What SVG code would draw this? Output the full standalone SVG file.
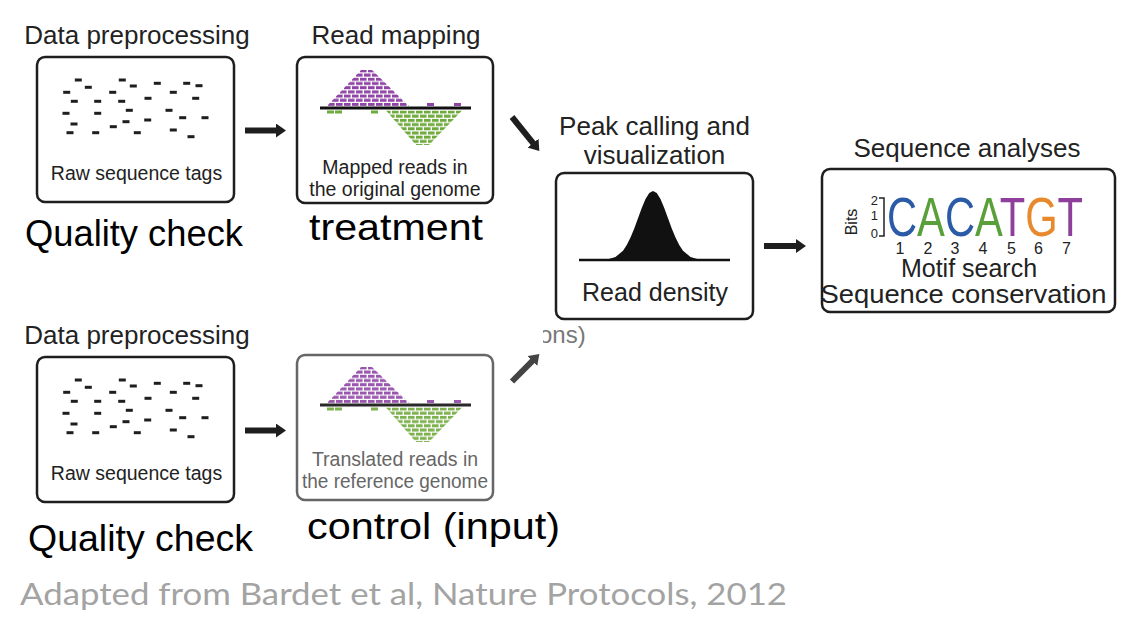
<svg xmlns="http://www.w3.org/2000/svg" xmlns:xlink="http://www.w3.org/1999/xlink" width="1129" height="621" viewBox="0 0 1129 621">
<style>
.box{fill:#fff;stroke:#1e1e1e;stroke-width:2.5}
.boxg{fill:#fff;stroke:#666;stroke-width:2.5}
.t{font-family:"Liberation Sans",Arial,sans-serif;fill:#222}
.title{font-size:26px;text-anchor:middle}
.inner{font-size:19.5px;text-anchor:middle}
.big{font-family:"Liberation Sans",Arial,sans-serif;font-size:36px;fill:#000}
.tag{fill:#1e1e1e}
.conn{stroke:#1e1e1e;stroke-width:6;fill:none}
.conng{stroke:#444;stroke-width:6;fill:none}
</style>
<defs>
<marker id="ah" viewBox="0 0 10 14" refX="1" refY="7" markerWidth="10" markerHeight="14" markerUnits="userSpaceOnUse" orient="auto">
<path d="M0,0 L10,7 L0,14 z" fill="#1e1e1e"/>
</marker>
<marker id="ahg" viewBox="0 0 10 14" refX="1" refY="7" markerWidth="10" markerHeight="14" markerUnits="userSpaceOnUse" orient="auto">
<path d="M0,0 L10,7 L0,14 z" fill="#444"/>
</marker>
<pattern id="purp" patternUnits="userSpaceOnUse" x="0" y="103" width="8" height="8.4">
<rect x="0" y="0" width="6.6" height="3" fill="#8f45a6"/>
<rect x="4" y="4.2" width="6.6" height="3" fill="#8f45a6"/>
<rect x="-4" y="4.2" width="6.6" height="3" fill="#8f45a6"/>
</pattern>
<pattern id="grn" patternUnits="userSpaceOnUse" x="0" y="110.5" width="8" height="8.4">
<rect x="0" y="0" width="6.6" height="3" fill="#6faa3c"/>
<rect x="4" y="4.2" width="6.6" height="3" fill="#6faa3c"/>
<rect x="-4" y="4.2" width="6.6" height="3" fill="#6faa3c"/>
</pattern>
<g id="tags">
<rect class="tag" x="74.8" y="78.5" width="7" height="3"/>
<rect class="tag" x="84.8" y="85.8" width="7" height="3"/>
<rect class="tag" x="63.2" y="90.8" width="7" height="3"/>
<rect class="tag" x="70.8" y="99.8" width="7" height="3"/>
<rect class="tag" x="94.2" y="99.8" width="7" height="3"/>
<rect class="tag" x="62.5" y="111.8" width="7" height="3"/>
<rect class="tag" x="94.2" y="111.8" width="7" height="3"/>
<rect class="tag" x="70.5" y="122.5" width="7" height="3"/>
<rect class="tag" x="66.5" y="131.2" width="7" height="3"/>
<rect class="tag" x="92.2" y="131.2" width="7" height="3"/>
<rect class="tag" x="118.8" y="78.5" width="7" height="3"/>
<rect class="tag" x="129.8" y="84.5" width="7" height="3"/>
<rect class="tag" x="109.2" y="90.8" width="7" height="3"/>
<rect class="tag" x="118.2" y="99.8" width="7" height="3"/>
<rect class="tag" x="125.8" y="108.8" width="7" height="3"/>
<rect class="tag" x="122.5" y="120.2" width="7" height="3"/>
<rect class="tag" x="109.8" y="125.2" width="7" height="3"/>
<rect class="tag" x="133.8" y="131.2" width="7" height="3"/>
<rect class="tag" x="144.5" y="96.8" width="7" height="3"/>
<rect class="tag" x="153.8" y="81.8" width="7" height="3"/>
<rect class="tag" x="144.2" y="118.5" width="7" height="3"/>
<rect class="tag" x="169.8" y="90.8" width="7" height="3"/>
<rect class="tag" x="165.5" y="108.8" width="7" height="3"/>
<rect class="tag" x="183.2" y="81.8" width="7" height="3"/>
<rect class="tag" x="195.5" y="84.2" width="7" height="3"/>
<rect class="tag" x="192.2" y="96.8" width="7" height="3"/>
<rect class="tag" x="179.2" y="116.2" width="7" height="3"/>
<rect class="tag" x="201.5" y="116.2" width="7" height="3"/>
<rect class="tag" x="169.8" y="128.5" width="7" height="3"/>
<rect class="tag" x="187.5" y="135.2" width="7" height="3"/>
</g>
<g id="pile">
<polygon points="327,106 361,70 372,70 409,106" fill="url(#purp)"/>
<rect x="427" y="103" width="7" height="3" fill="#8f45a6"/>
<rect x="454" y="103" width="7" height="3" fill="#8f45a6"/>
<rect x="327" y="110.5" width="7" height="3" fill="#6faa3c"/>
<rect x="335" y="110.5" width="7" height="3" fill="#6faa3c"/>
<rect x="371" y="110.5" width="7" height="3" fill="#6faa3c"/>
<polygon points="386,110.5 462,110.5 429,145 416,145" fill="url(#grn)"/>
<line x1="320" y1="108" x2="471" y2="108" stroke="#111" stroke-width="3"/>
</g>
<clipPath id="onsclip"><rect x="543" y="310" width="60" height="50"/></clipPath>
</defs>

<g id="connectors">
<line class="conn" x1="245" y1="130.5" x2="277" y2="130.5" marker-end="url(#ah)"/>
<line class="conn" x1="245" y1="430.5" x2="277" y2="430.5" marker-end="url(#ah)"/>
<line class="conn" x1="512" y1="117" x2="533.7" y2="143.9" marker-end="url(#ah)"/>
<line class="conng" x1="512" y1="381.5" x2="533" y2="360.3" marker-end="url(#ahg)"/>
<line class="conn" x1="764" y1="246" x2="797" y2="246" marker-end="url(#ah)"/>
</g>

<g id="preprocess-top">
<text class="t title" x="137" y="44">Data preprocessing</text>
<rect class="box" x="37" y="57" width="197" height="145" rx="8"/>
<use xlink:href="#tags"/>
<text class="t inner" x="136.5" y="180">Raw sequence tags</text>
<text class="big" x="25" y="246" textLength="218" lengthAdjust="spacingAndGlyphs">Quality check</text>
</g>

<g id="mapping-top">
<text class="t title" x="396" y="44">Read mapping</text>
<rect class="box" x="297" y="57" width="196" height="146" rx="8"/>
<use xlink:href="#pile"/>
<text class="t inner" x="395" y="174">Mapped reads in</text>
<text class="t inner" x="395" y="196">the original genome</text>
<text class="big" x="309" y="240" textLength="174" lengthAdjust="spacingAndGlyphs">treatment</text>
</g>

<g id="preprocess-bottom">
<text class="t title" x="137" y="344">Data preprocessing</text>
<rect class="box" x="37" y="357" width="197" height="145" rx="8"/>
<use xlink:href="#tags" transform="translate(0,300)"/>
<text class="t inner" x="136.5" y="480">Raw sequence tags</text>
<text class="big" x="28" y="551" textLength="225" lengthAdjust="spacingAndGlyphs">Quality check</text>
</g>

<g id="mapping-bottom">
<rect class="boxg" x="297" y="355" width="196" height="145" rx="8"/>
<use xlink:href="#pile" transform="translate(0,297)" opacity="0.9"/>
<text class="t inner" x="395" y="466" style="fill:#666">Translated reads in</text>
<text class="t inner" x="395" y="488" style="fill:#666" textLength="186" lengthAdjust="spacingAndGlyphs">the reference genome</text>
<text class="big" x="307" y="539" textLength="253" lengthAdjust="spacingAndGlyphs">control (input)</text>
</g>

<g id="ons-fragment">
<text class="t" x="539" y="343" font-size="24" style="fill:#777" clip-path="url(#onsclip)">ons)</text>
</g>

<g id="peak-calling">
<text class="t title" x="654.5" y="135">Peak calling and</text>
<text class="t title" x="654.5" y="164">visualization</text>
<rect class="box" x="556" y="173" width="197" height="146" rx="8"/>
<path d="M605,259.6 L608,259.2 L615.5,257 L623,250.7 L626.75,245.1 L630.5,237.6 L634.25,228.4 L638,218.2 L641.75,207.9 L645.5,199.1 L649.25,193.1 L653,191 L656.75,193.1 L660.5,199.1 L664.25,207.9 L668,218.2 L671.75,228.4 L675.5,237.6 L679.25,245.1 L683,250.7 L690.5,257 L698,259.2 L701,259.6 L701,260 L605,260 Z" fill="#111"/>
<line x1="579" y1="260" x2="730" y2="260" stroke="#111" stroke-width="2.5"/>
<text class="t" x="655" y="301" font-size="25" text-anchor="middle">Read density</text>
</g>

<g id="sequence-analyses">
<text class="t title" x="967" y="157">Sequence analyses</text>
<rect class="box" x="822" y="169" width="293" height="143" rx="8"/>
<text font-family="Liberation Sans, Arial, sans-serif" font-size="56" x="887" y="236" textLength="196" lengthAdjust="spacingAndGlyphs"><tspan fill="#2b5ba6">C</tspan><tspan fill="#5aa03a">A</tspan><tspan fill="#2b5ba6">C</tspan><tspan fill="#5aa03a">A</tspan><tspan fill="#8d3f9b">T</tspan><tspan fill="#e8892d">G</tspan><tspan fill="#8d3f9b">T</tspan></text>
<text class="t" x="878" y="205" font-size="13" text-anchor="end">2</text>
<text class="t" x="878" y="220" font-size="13" text-anchor="end">1</text>
<text class="t" x="878" y="238" font-size="13" text-anchor="end">0</text>
<path d="M879,198 H884 V236 H879" fill="none" stroke="#222" stroke-width="1.5"/>
<text class="t" font-size="16" text-anchor="middle" transform="translate(857,222) rotate(-90)">Bits</text>
<g font-size="16" text-anchor="middle">
<text class="t" x="900" y="254">1</text>
<text class="t" x="928" y="254">2</text>
<text class="t" x="955" y="254">3</text>
<text class="t" x="983" y="254">4</text>
<text class="t" x="1011.5" y="254">5</text>
<text class="t" x="1038.5" y="254">6</text>
<text class="t" x="1066.5" y="254">7</text>
</g>
<text class="t" x="969" y="277" font-size="25" text-anchor="middle">Motif search</text>
<text class="t" x="963.5" y="303" font-size="26" text-anchor="middle" textLength="286" lengthAdjust="spacingAndGlyphs">Sequence conservation</text>
</g>

<g id="footer">
<text x="20" y="605" font-family="Lato, 'Open Sans', sans-serif" font-size="31" fill="#a3a3a3" textLength="767" lengthAdjust="spacingAndGlyphs">Adapted from Bardet et al, Nature Protocols, 2012</text>
</g>
</svg>
